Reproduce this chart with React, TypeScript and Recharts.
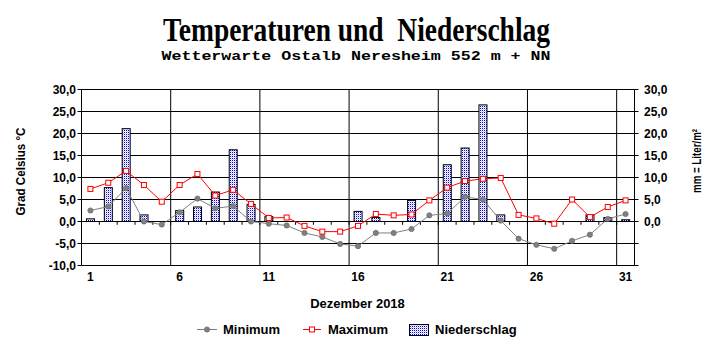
import React from 'react';
import { ComposedChart, Bar, Line, XAxis, YAxis, CartesianGrid, ReferenceLine } from 'recharts';

const days = [1, 2, 3, 4, 5, 6, 7, 8, 9, 10, 11, 12, 13, 14, 15, 16, 17, 18, 19, 20, 21, 22, 23, 24, 25, 26, 27, 28, 29, 30, 31];
const tMin = [2.5, 3.4, 7.6, 0.0, -0.7, 2.1, 5.2, 3.0, 3.5, 0.0, -0.5, -0.9, -2.6, -3.5, -5.1, -5.6, -2.6, -2.6, -1.7, 1.4, 1.8, 5.6, 5.0, 0.2, -3.9, -5.3, -6.2, -4.4, -3.0, 0.6, 1.7];
const tMax = [7.4, 8.8, 11.5, 8.3, 4.5, 8.3, 10.8, 5.9, 7.2, 4.0, 0.8, 0.9, -1.0, -2.3, -2.3, -1.0, 1.7, 1.4, 1.6, 4.8, 7.7, 9.2, 9.7, 9.9, 1.5, 0.7, -0.5, 5.0, 1.0, 3.3, 4.8];
const precip = [0.6, 7.7, 21.1, 1.5, 0, 2.5, 3.3, 6.7, 16.3, 3.9, 1.1, 0, 0, 0, 0, 2.3, 0.9, 0, 4.8, 0, 12.9, 16.7, 26.5, 1.5, 0, 0, 0, 0, 1.5, 0.9, 0.4];

const xTicks = [1, 6, 11, 16, 21, 26, 31];
const yTicks = [-10, -5, 0, 5, 10, 15, 20, 25, 30];
const dayGrid = [5.5, 10.5, 15.5, 20.5, 25.5, 30.5];
const dayBounds = [1.5, 2.5, 3.5, 4.5, 5.5, 6.5, 7.5, 8.5, 9.5, 10.5, 11.5, 12.5, 13.5, 14.5, 15.5, 16.5, 17.5, 18.5, 19.5, 20.5, 21.5, 22.5, 23.5, 24.5, 25.5, 26.5, 27.5, 28.5, 29.5, 30.5];

const data = days.map((d, i) => ({ day: d, tmin: tMin[i], tmax: tMax[i], precip: precip[i] }));

const SANS = '"Liberation Sans", Arial, sans-serif';
const fmt = (v: number) => v.toFixed(1).replace('.', ',');

const XTick = (props: any) => {
  const { x, y, payload } = props;
  return (
    <text x={x} y={y + 15.5} textAnchor="middle" fontFamily={SANS} fontWeight="bold" fontSize={12} fill="#000">
      {payload.value}
    </text>
  );
};

const MaxDot = (props: any) => {
  const { cx, cy, index } = props;
  if (cx == null || cy == null) return <g key={'mx' + index} />;
  return <rect key={'mx' + index} x={cx - 2.5} y={cy - 2.5} width={5} height={5} fill="#fff" stroke="#ff0000" strokeWidth={1} />;
};

const MinDot = (props: any) => {
  const { cx, cy, index } = props;
  if (cx == null || cy == null) return <g key={'mn' + index} />;
  return <circle key={'mn' + index} cx={cx} cy={cy} r={2.6} fill="#808080" stroke="#707070" strokeWidth={0.8} />;
};

const PrecipBar = (props: any) => {
  const { x, y, width, height, index } = props;
  if (!height || Math.abs(height) < 0.5) return <g key={'pb' + index} />;
  return (
    <g key={'pb' + index}>
      <rect x={x} y={y} width={width} height={height} fill="#ffffff" />
      <rect x={x} y={y} width={width} height={height} fill="url(#dotsPat)" stroke="#000" strokeWidth={1} />
    </g>
  );
};

export default function App() {
  return (
    <div style={{ position: 'absolute', left: 0, top: 0, width: 715, height: 352, background: '#fff' }}>
      <ComposedChart
        width={715}
        height={352}
        data={data}
        margin={{ top: 89.5, right: 0, bottom: 56.5, left: 0 }}
      >
        <CartesianGrid yAxisId="temp" vertical={false} stroke="#000" strokeDasharray="" />
        <XAxis
          dataKey="day"
          type="number"
          domain={[0.5, 31.5]}
          ticks={xTicks}
          interval={0}
          axisLine={false}
          tickLine={false}
          tickSize={0}
          tickMargin={0}
          height={30}
          tick={<XTick />}
        />
        <YAxis
          yAxisId="temp"
          domain={[-10, 30]}
          ticks={yTicks}
          interval={0}
          width={81.5}
          tickSize={4}
          tickMargin={1.5}
          tickFormatter={fmt}
          axisLine={{ stroke: '#000' }}
          tickLine={{ stroke: '#000' }}
          tick={{ fontFamily: SANS, fontWeight: 'bold', fontSize: 12, fill: '#000' }}
          allowDataOverflow
        />
        <YAxis
          yAxisId="mm"
          orientation="right"
          domain={[-10, 30]}
          ticks={yTicks}
          interval={0}
          width={80.5}
          tickSize={4}
          tickMargin={5.5}
          tickFormatter={(v: number) => (v < 0 ? '' : fmt(v))}
          axisLine={{ stroke: '#000' }}
          tickLine={{ stroke: '#000' }}
          tick={{ fontFamily: SANS, fontWeight: 'bold', fontSize: 12, fill: '#000', textAnchor: 'start' }}
          allowDataOverflow
        />
        {dayGrid.map((d) => (
          <ReferenceLine key={'g' + d} yAxisId="temp" x={d} stroke="#000" strokeWidth={1} />
        ))}
        {dayBounds.map((d) => (
          <ReferenceLine
            key={'t' + d}
            yAxisId="temp"
            segment={[{ x: d, y: 0 }, { x: d, y: -0.75 }]}
            stroke="#000"
            strokeWidth={1}
          />
        ))}
        <Bar
          yAxisId="mm"
          dataKey="precip"
          barSize={8}
          shape={<PrecipBar />}
          isAnimationActive={false}
        />
        <Line
          yAxisId="temp"
          dataKey="tmin"
          stroke="#808080"
          strokeWidth={1}
          dot={<MinDot />}
          activeDot={false}
          isAnimationActive={false}
        />
        <Line
          yAxisId="temp"
          dataKey="tmax"
          stroke="#ff0000"
          strokeWidth={1}
          dot={<MaxDot />}
          activeDot={false}
          isAnimationActive={false}
        />
      </ComposedChart>
      <svg width={715} height={352} style={{ position: 'absolute', left: 0, top: 0, pointerEvents: 'none' }}>
        <defs>
          <pattern id="dotsPat" x={0} y={0} width={2} height={2} patternUnits="userSpaceOnUse">
            <rect x={0} y={0} width={1} height={1} fill="#0000ff" />
            <rect x={1} y={1} width={1} height={1} fill="#c8c8ff" />
          </pattern>
        </defs>
        <text x={163} y={41} fontFamily='"Liberation Serif", "Times New Roman", serif' fontWeight="bold" fontSize={34} textLength={387} lengthAdjust="spacingAndGlyphs" fill="#000" style={{ whiteSpace: 'pre' }}>
          Temperaturen und  Niederschlag
        </text>
        <text x={161.5} y={60} fontFamily='"Liberation Mono", "Courier New", monospace' fontWeight="bold" fontSize={13} textLength={389} lengthAdjust="spacingAndGlyphs" fill="#000">
          Wetterwarte Ostalb Neresheim 552 m + NN
        </text>
        <text transform="translate(24.5,171.5) rotate(-90)" textAnchor="middle" fontFamily={SANS} fontWeight="bold" fontSize={12} textLength={88} lengthAdjust="spacingAndGlyphs" fill="#000">
          Grad Celsius °C
        </text>
        <text transform="translate(700.5,161) rotate(-90)" textAnchor="middle" fontFamily={SANS} fontWeight="bold" fontSize={12.5} textLength={64} lengthAdjust="spacingAndGlyphs" fill="#000">
          mm = Liter/m²
        </text>
        <text x={357.5} y={308} textAnchor="middle" fontFamily={SANS} fontWeight="bold" fontSize={13} fill="#000">
          Dezember 2018
        </text>
        <line x1={197} y1={329.5} x2={217} y2={329.5} stroke="#808080" strokeWidth={1} />
        <circle cx={207} cy={329.5} r={2.6} fill="#808080" stroke="#707070" strokeWidth={0.8} />
        <text x={223} y={334} fontFamily={SANS} fontWeight="bold" fontSize={13} fill="#000">Minimum</text>
        <line x1={303} y1={329.5} x2={321} y2={329.5} stroke="#ff0000" strokeWidth={1} />
        <rect x={309.5} y={327} width={5} height={5} fill="#fff" stroke="#ff0000" strokeWidth={1} />
        <text x={328} y={334} fontFamily={SANS} fontWeight="bold" fontSize={13} fill="#000">Maximum</text>
        <rect x={409.5} y={324.5} width={19} height={11} fill="#fff" />
        <rect x={409.5} y={324.5} width={19} height={11} fill="url(#dotsPat)" stroke="#000" strokeWidth={1} />
        <text x={435} y={334} fontFamily={SANS} fontWeight="bold" fontSize={13} fill="#000">Niederschlag</text>
      </svg>
    </div>
  );
}
